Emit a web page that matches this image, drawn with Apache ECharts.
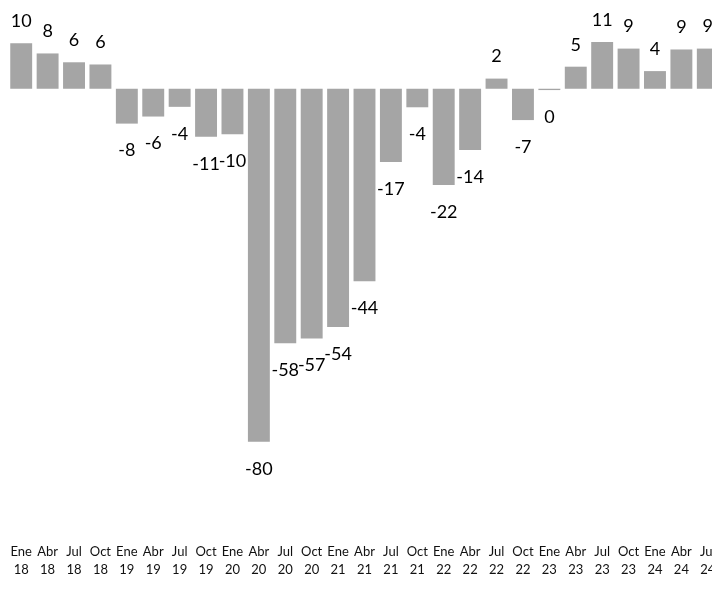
<!DOCTYPE html>
<html>
<head>
<meta charset="utf-8">
<script src="https://cdn.jsdelivr.net/npm/echarts@6/dist/echarts.min.js"></script>
<style>
  html, body { margin: 0; padding: 0; background: #fff; }
  #chart { width: 712px; height: 589px; }
</style>
</head>
<body>
<div id="chart"></div>
<script>
// trimestres (Ene/Abr/Jul/Oct, año)
const months = ['Ene', 'Abr', 'Jul', 'Oct']
const years = ['18', '19', '20', '21', '22', '23', '24']
const categories = []
years.forEach(y => months.forEach(m => categories.push(m + '\n' + y)))
categories.length = 27 // termina en Jul 24

const values = [
  10.3, 8.0, 6.0, 5.5,
  -7.9, -6.3, -4.1, -10.9,
  -10.3, -80.0, -57.7, -56.6,
  -54.0, -43.6, -16.6, -4.2,
  -21.8, -13.9, 2.3, -7.1,
  -0.3, 5.0, 10.6, 9.1,
  4.0, 8.9, 9.1
]

const FONT = "'Lato', sans-serif"

const chart = echarts.init(document.getElementById('chart'))

chart.setOption({
  animation: false,
  // la última barra queda cortada por el borde derecho
  grid: { top: 0.5, bottom: 59, left: 8, width: 713, outerBoundsMode: 'none', containLabel: false },
  xAxis: {
    type: 'category',
    data: categories,
    axisLine: { show: false },
    axisTick: { show: false },
    axisLabel: {
      interval: 0,
      margin: 13,
      fontFamily: FONT,
      fontSize: 13,
      lineHeight: 18,
      color: '#111'
    }
  },
  yAxis: {
    type: 'value',
    min: -100,
    max: 20,
    show: false,
    splitLine: { show: false }
  },
  series: [{
    type: 'bar',
    barWidth: '83%',
    itemStyle: { color: '#A5A5A5' },
    data: values.map(v => ({
      value: v,
      label: v >= 0
        ? { position: 'top', distance: 13 }
        : { position: 'bottom', distance: 18 }
    })),
    label: {
      show: true,
      fontFamily: FONT,
      fontSize: 18,
      color: '#000',
      formatter: p => `${Math.round(p.value)}`
    }
  }]
})
</script>
</body>
</html>
